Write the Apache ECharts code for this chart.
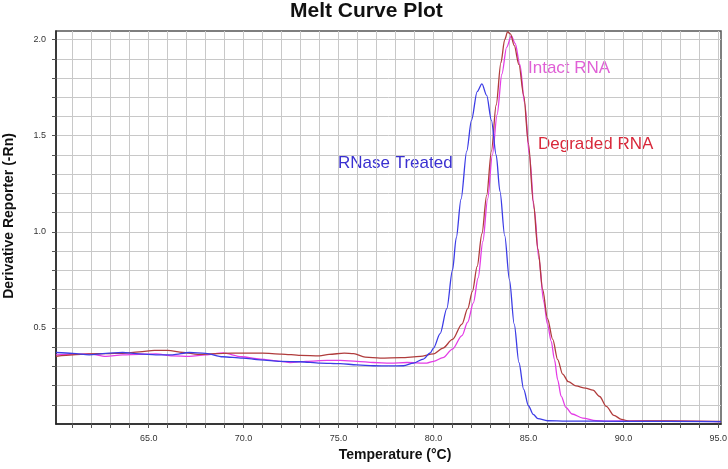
<!DOCTYPE html>
<html>
<head>
<meta charset="utf-8">
<script src="https://cdn.jsdelivr.net/npm/echarts@6/dist/echarts.min.js"></script>
<style>
html,body{margin:0;padding:0;background:#fff;}
#chart{width:728px;height:469px;}
</style>
</head>
<body>
<div id="chart"></div>
<script>
// ---- Data ----
const rnaseTemp = [60.12,61.0,61.87,62.75,63.63,64.5,65.38,66.26,67.14,68.0,68.9,69.95,70.88,71.93,72.98,74.04,75.09,75.97,76.84,77.7,78.42,78.95,79.47,79.83,80.0,80.35,80.7,81.0,81.2,81.45,81.75,82.0,82.3,82.55,82.8,83.05,83.3,83.5,83.75,84.0,84.25,84.5,84.75,85.0,85.25,85.5,86.0,87.0,90.0,95.14];
const rnaseVal  = [0.372,0.368,0.360,0.368,0.372,0.365,0.360,0.360,0.372,0.368,0.350,0.343,0.334,0.326,0.324,0.317,0.314,0.308,0.303,0.302,0.303,0.317,0.338,0.370,0.395,0.47,0.60,0.80,0.97,1.17,1.42,1.58,1.73,1.77,1.71,1.58,1.40,1.21,0.98,0.75,0.52,0.32,0.18,0.095,0.05,0.028,0.017,0.015,0.014,0.012];

const intactTemp = [60.12,61.0,61.87,62.75,63.63,64.5,65.38,66.26,67.14,68.0,68.9,69.9,70.88,71.93,72.45,73.3,74.4,75.09,75.97,76.84,77.72,78.6,79.65,80.0,80.5,81.0,81.5,81.8,82.1,82.35,82.6,82.85,83.1,83.35,83.6,83.85,84.1,84.3,84.55,84.8,85.05,85.3,85.55,85.8,86.0,86.2,86.37,86.54,86.72,86.98,87.3,87.86,88.56,89.1,91.0,95.14];
const intactVal  = [0.360,0.362,0.365,0.352,0.360,0.363,0.365,0.355,0.352,0.360,0.370,0.350,0.338,0.326,0.320,0.326,0.331,0.331,0.326,0.320,0.317,0.320,0.317,0.326,0.345,0.39,0.46,0.53,0.63,0.76,0.95,1.17,1.40,1.61,1.82,1.96,2.02,1.98,1.87,1.67,1.40,1.12,0.86,0.64,0.52,0.43,0.335,0.23,0.145,0.085,0.052,0.031,0.018,0.015,0.016,0.012];

const degradedTemp = [60.12,61.0,61.87,62.75,63.63,64.5,65.3,66.0,66.8,67.6,68.9,69.95,71.0,72.0,73.0,74.0,74.5,75.3,75.8,76.4,77.2,78.3,79.3,80.0,80.5,81.0,81.5,81.8,82.05,82.3,82.55,82.8,83.05,83.3,83.55,83.75,83.9,84.05,84.25,84.5,84.75,85.0,85.25,85.5,85.75,86.0,86.28,86.54,86.8,87.1,87.5,88.0,88.4,88.75,89.1,89.5,89.9,90.3,92.5,95.14];
const degradedVal  = [0.352,0.360,0.365,0.366,0.368,0.375,0.383,0.383,0.372,0.362,0.368,0.369,0.369,0.364,0.357,0.355,0.362,0.369,0.366,0.348,0.343,0.345,0.352,0.365,0.395,0.44,0.52,0.60,0.69,0.82,0.99,1.19,1.42,1.66,1.88,2.00,2.04,2.03,1.97,1.87,1.71,1.46,1.16,0.91,0.70,0.55,0.44,0.335,0.26,0.22,0.198,0.187,0.176,0.143,0.092,0.045,0.024,0.015,0.016,0.013];

const xTickLabels = [65,70,75,80,85,90,95];
const xGridValues = [61,62,63,64,65,66,67,68,69,70,71,72,73,74,75,76,77,78,79,80,81,82,83,84,85,86,87,88,89,90,91,92,93,94,95];
const yTickLabels = [0.5,1.0,1.5,2.0];
const yGridValues = [0.1,0.2,0.3,0.4,0.5,0.6,0.7,0.8,0.9,1.0,1.1,1.2,1.3,1.4,1.5,1.6,1.7,1.8,1.9,2.0];

function zip(a,b){ return a.map((t,i)=>[t,b[i]]); }

const FONT = '"Liberation Sans", Arial, Helvetica, sans-serif';
const chart = echarts.init(document.getElementById('chart'), null, {renderer:'canvas'});

chart.setOption({
  animation:false,
  backgroundColor:'#ffffff',
  title:{
    text:'Melt Curve Plot',
    left:290, top:0, padding:[1,0,0,0],
    textStyle:{fontFamily:FONT, fontWeight:'bold', fontSize:21, color:'#111'}
  },
  grid:{left:56, right:7, top:31, bottom:45, show:true, borderColor:'#555', borderWidth:1.5,
        containLabel:false, outerBoundsMode:'none'},
  xAxis:{
    type:'value', min:60.12, max:95.14,
    name:'Temperature (°C)', nameLocation:'middle', nameGap:21,
    nameTextStyle:{fontFamily:FONT, fontWeight:'bold', fontSize:14, color:'#111', padding:[0,0,0,13]},
    axisLine:{show:true, onZero:false, lineStyle:{color:'#222', width:1.5}},
    axisTick:{show:true, inside:false, length:4, customValues:xGridValues, lineStyle:{color:'#555'}},
    axisLabel:{customValues:xTickLabels, margin:10, fontFamily:FONT, fontSize:9, color:'#333',
      formatter:v=>Number(v).toFixed(1)},
    splitLine:{show:true, lineStyle:{color:'#c8c8c8', width:1}}
  },
  yAxis:{
    type:'value', min:0, max:2.045,
    name:'Derivative Reporter (-Rn)', nameLocation:'middle', nameGap:40,
    nameTextStyle:{fontFamily:FONT, fontWeight:'bold', fontSize:14, color:'#111', padding:[0,0,0,23]},
    axisLine:{show:true, onZero:false, lineStyle:{color:'#222', width:1.5}},
    axisTick:{show:true, inside:false, length:4, customValues:yGridValues, lineStyle:{color:'#555'}},
    axisLabel:{customValues:yTickLabels, margin:10, fontFamily:FONT, fontSize:9, color:'#333',
      formatter:v=>Number(v).toFixed(1)},
    splitLine:{show:true, lineStyle:{color:'#c8c8c8', width:1}}
  },
  series:[
    {name:'Intact RNA', type:'line', data:zip(intactTemp,intactVal), showSymbol:false, smooth:0.3, smoothMonotone:'x',
      lineStyle:{color:'#e43ce6', width:1.3}, itemStyle:{color:'#e43ce6'}},
    {name:'Degraded RNA', type:'line', data:zip(degradedTemp,degradedVal), showSymbol:false, smooth:0.3, smoothMonotone:'x',
      lineStyle:{color:'#b03c3c', width:1.3}, itemStyle:{color:'#b03c3c'}},
    {name:'RNase Treated', type:'line', data:zip(rnaseTemp,rnaseVal), showSymbol:false, smooth:0.3, smoothMonotone:'x',
      lineStyle:{color:'#3c3ce6', width:1.3}, itemStyle:{color:'#3c3ce6'}}
  ],
  graphic:[
    {type:'text', left:338, top:155, style:{text:'RNase Treated', font:'17px '+FONT, fill:'#3a30d0'}},
    {type:'text', left:528, top:60, style:{text:'Intact RNA', font:'17px '+FONT, fill:'#e060d6'}},
    {type:'text', left:538, top:136, style:{text:'Degraded RNA', font:'17px '+FONT, fill:'#d8283a'}}
  ]
});
</script>
</body>
</html>
